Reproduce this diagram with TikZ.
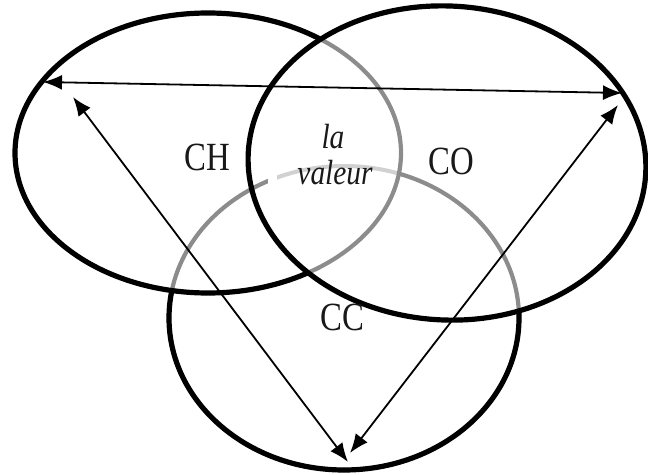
\documentclass[tikz,border=0pt]{standalone}
\usepackage{fontspec}
\setmainfont{Liberation Serif}
\usepackage{graphicx}
\usetikzlibrary{arrows.meta}
\begin{document}
\begin{tikzpicture}[x=1pt,y=-1pt,
  ring/.style={line width=5.2pt,draw=black},
  faded/.style={line width=4.2pt,draw=black!45},
  link/.style={line width=1.8pt,{Latex[length=19pt,width=15pt]}-{Latex[length=19pt,width=15pt]}},
  lbl/.style={font=\fontsize{40}{42}\selectfont,inner sep=0pt,text=black!90},
  lblit/.style={font=\fontsize{35}{37}\selectfont\itshape,inner sep=0pt,text=black!90}]
\useasboundingbox (0,0) rectangle (648,476);
\coordinate (cH) at (208,153);
\coordinate (cO) at (447,163);
\coordinate (cC) at (344,318);
% CC ellipse: grey everywhere, black outside CH and CO
\draw[faded] (cC) ellipse [x radius=175pt,y radius=152pt];
\begin{scope}
  \clip (268,150) rectangle (398,195);
  \draw[white,line width=6pt] (cC) ellipse [x radius=175pt,y radius=152pt];
\end{scope}
\begin{scope}
  \clip (277,150) rectangle (398,195);
  \draw[line width=4pt,black!18] (cC) ellipse [x radius=175pt,y radius=152pt];
\end{scope}
\begin{scope}
  \clip (-10,490) -- (-10,-10) -- (660,-10) -- (660,490) -- cycle (cH) ellipse [x radius=193pt,y radius=140pt];
  \clip (-10,490) -- (-10,-10) -- (660,-10) -- (660,490) -- cycle (cO) ellipse [x radius=199pt,y radius=157pt,rotate=-3];
  \draw[ring] (cC) ellipse [x radius=175pt,y radius=152pt];
\end{scope}
% CH ellipse: grey inside CO, black outside
\begin{scope}
  \clip (cO) ellipse [x radius=199pt,y radius=157pt,rotate=-3];
  \draw[faded] (cH) ellipse [x radius=193pt,y radius=140pt];
\end{scope}
\begin{scope}
  \clip (-10,490) -- (-10,-10) -- (660,-10) -- (660,490) -- cycle (cO) ellipse [x radius=199pt,y radius=157pt,rotate=-3];
  \draw[ring] (cH) ellipse [x radius=193pt,y radius=140pt];
\end{scope}
% CO ellipse
\draw[ring] (cO) ellipse [x radius=199pt,y radius=157pt,rotate=-3];
% labels
\node[lbl] (ch) at (207,157) {\scalebox{0.82}[1]{CH}};
\node[lbl] (co) at (451,161) {\scalebox{0.82}[1]{CO}};
\node[lbl] (cc) at (342,317) {\scalebox{0.82}[1]{CC}};
\node[lblit] (la) at (333,137) {\scalebox{0.84}[1]{la}};
\node[lblit] (val) at (335,173) {\scalebox{0.84}[1]{valeur}};
% arrows
\coordinate (tl) at (43,82);
\coordinate (tr) at (622,93);
\coordinate (ml) at (73,97);
\coordinate (bl) at (348,462);
\coordinate (mr) at (618,105);
\coordinate (br) at (350,453);
\draw[link] (tl) -- (tr);
\draw[link] (ml) -- (bl);
\draw[link] (mr) -- (br);
\end{tikzpicture}
\end{document}
